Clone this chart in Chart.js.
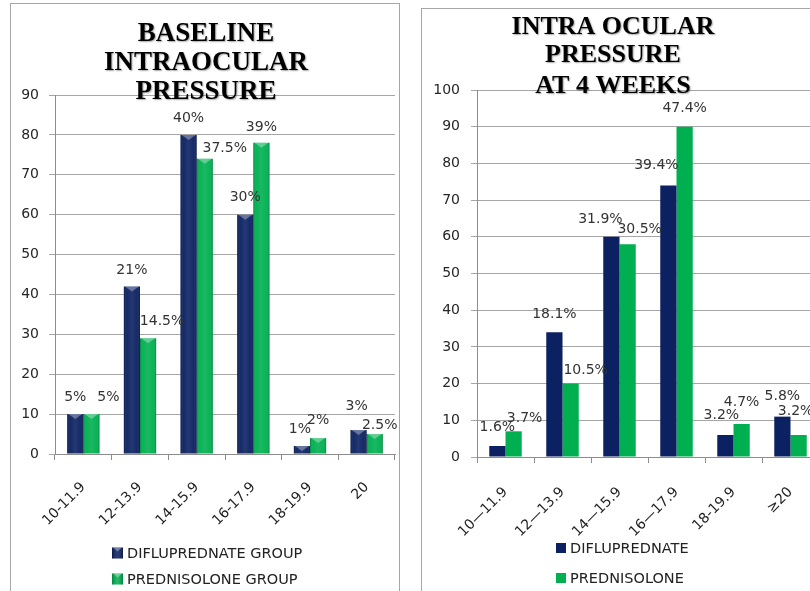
<!DOCTYPE html>
<html>
<head>
<meta charset="utf-8">
<script src="https://cdn.jsdelivr.net/npm/chart.js@4.4.1/dist/chart.umd.min.js"></script>
<style>
  html, body { margin: 0; padding: 0; background: #fff; width: 810px; height: 591px; overflow: hidden; }
  .frame { position: absolute; border: 1px solid #a6a6a6; box-sizing: border-box; }
  #frameL { left: 10px; top: 3px; width: 390px; height: 640px; }
  #frameR { left: 421px; top: 8px; width: 420px; height: 640px; }
  #cvL { position: absolute; left: 0; top: 0; }
  #cvR { position: absolute; left: 410px; top: 0; }
</style>
</head>
<body>
<div class="frame" id="frameL"></div>
<div class="frame" id="frameR"></div>
<canvas id="cvL" width="410" height="591"></canvas>
<canvas id="cvR" width="420" height="591"></canvas>
<script>
// Baseline intraocular pressure (mmHg bands) – number of eyes per group
const baselineCategories = ['10-11.9', '12-13.9', '14-15.9', '16-17.9', '18-19.9', '20'];
const baselineDifluprednate = [10, 42, 80, 60, 2, 6];
const baselinePrednisolone = [10, 29, 74, 78, 4, 5];
const baselineDifluprednatePct = ['5%', '21%', '40%', '30%', '1%', '3%'];
const baselinePrednisolonePct = ['5%', '14.5%', '37.5%', '39%', '2%', '2.5%'];
const baselineYMax = 90;

// Intraocular pressure at 4 weeks
const week4Categories = ['10\u201411.9', '12\u201413.9', '14\u201415.9', '16\u201417.9', '18-19.9', '\u226520'];
const week4Difluprednate = [3, 34, 60, 74, 6, 11];
const week4Prednisolone = [7, 20, 58, 90, 9, 6];
const week4DifluprednatePct = ['1.6%', '18.1%', '31.9%', '39.4%', '3.2%', '5.8%'];
const week4PrednisolonePct = ['3.7%', '10.5%', '30.5%', '47.4%', '4.7%', '3.2%'];
const week4YMax = 100;

const yStep = 10;

const NAVY = '#0b2161';
const GREEN = '#00b050';
const SANS = '"DejaVu Sans", Verdana, sans-serif';
const SERIF = '"Liberation Serif", "Times New Roman", serif';

// Draws bevel shading, value labels, the panel title and the legend
const panelDecor = {
  id: 'panelDecor',
  afterDatasetsDraw(chart, args, o) {
    const ctx = chart.ctx;
    ctx.save();
    if (o.bevel) {
      chart.data.datasets.forEach((ds, di) => {
        chart.getDatasetMeta(di).data.forEach(bar => {
          const { x, y, base, width } = bar.getProps(['x', 'y', 'base', 'width'], true);
          const l = x - width / 2, r = x + width / 2;
          const g = ctx.createLinearGradient(l, 0, r, 0);
          g.addColorStop(0, 'rgba(0,0,0,0.25)');
          g.addColorStop(0.18, 'rgba(255,255,255,0.04)');
          g.addColorStop(0.5, 'rgba(255,255,255,0.10)');
          g.addColorStop(0.82, 'rgba(255,255,255,0.04)');
          g.addColorStop(1, 'rgba(0,0,0,0.25)');
          ctx.fillStyle = g;
          ctx.fillRect(l, y, width, base - y);
          const h = Math.min(5, base - y);
          ctx.beginPath();
          ctx.moveTo(l + 1, y);
          ctx.lineTo(r - 1, y);
          ctx.lineTo(x, y + h);
          ctx.closePath();
          ctx.fillStyle = 'rgba(255,255,255,0.32)';
          ctx.fill();
        });
      });
    }
    ctx.font = '14px ' + SANS;
    ctx.fillStyle = '#333333';
    ctx.textAlign = 'center';
    ctx.textBaseline = 'middle';
    o.labels.forEach((texts, di) => {
      const meta = chart.getDatasetMeta(di);
      texts.forEach((t, i) => {
        const bar = meta.data[i];
        const n = o.nudges[di][i];
        ctx.fillText(t, bar.x + n[0], bar.y + n[1]);
      });
    });
    ctx.restore();
  },
  afterDraw(chart, args, o) {
    const ctx = chart.ctx;
    ctx.save();
    // title
    ctx.font = 'bold ' + o.titleSize + 'px ' + SERIF;
    ctx.fillStyle = '#000';
    ctx.textAlign = 'center';
    ctx.textBaseline = 'middle';
    ctx.shadowColor = 'rgba(0,0,0,0.35)';
    ctx.shadowBlur = 1.5;
    ctx.shadowOffsetX = 1;
    ctx.shadowOffsetY = 1;
    o.title.forEach((line, i) => ctx.fillText(line, o.titleX, o.titleY[i]));
    ctx.shadowColor = 'transparent';
    // legend
    ctx.font = '14.5px ' + SANS;
    ctx.textAlign = 'left';
    chart.data.datasets.forEach((ds, i) => {
      const cy = o.legendY[i];
      const s = o.legendBox;
      ctx.fillStyle = ds.backgroundColor;
      ctx.fillRect(o.legendX, cy - s / 2, s, s);
      if (o.bevel) {
        const g = ctx.createLinearGradient(o.legendX, 0, o.legendX + s, 0);
        g.addColorStop(0, 'rgba(0,0,0,0.25)');
        g.addColorStop(0.5, 'rgba(255,255,255,0.12)');
        g.addColorStop(1, 'rgba(0,0,0,0.25)');
        ctx.fillStyle = g;
        ctx.fillRect(o.legendX, cy - s / 2, s, s);
        ctx.beginPath();
        ctx.moveTo(o.legendX + 1, cy - s / 2);
        ctx.lineTo(o.legendX + s - 1, cy - s / 2);
        ctx.lineTo(o.legendX + s / 2, cy - s / 2 + 4);
        ctx.closePath();
        ctx.fillStyle = 'rgba(255,255,255,0.35)';
        ctx.fill();
      }
      ctx.fillStyle = '#222';
      ctx.fillText(ds.label, o.legendX + s + 4, cy + 1);
    });
    ctx.restore();
  }
};

function buildChart(canvasId, cfg) {
  return new Chart(document.getElementById(canvasId), {
    type: 'bar',
    data: {
      labels: cfg.categories,
      datasets: [
        { label: cfg.names[0], data: cfg.series[0], backgroundColor: NAVY,
          categoryPercentage: 0.57, barPercentage: 1.0 },
        { label: cfg.names[1], data: cfg.series[1], backgroundColor: GREEN,
          categoryPercentage: 0.57, barPercentage: 1.0 }
      ]
    },
    options: {
      responsive: false,
      animation: false,
      layout: { padding: cfg.padding },
      plugins: {
        legend: { display: false },
        title: { display: false },
        tooltip: { enabled: false },
        panelDecor: cfg.decor
      },
      scales: {
        x: {
          offset: true,
          grid: { display: true, drawOnChartArea: false, drawTicks: true, tickLength: 6,
                  offset: true, color: '#8c8c8c' },
          border: { color: '#8c8c8c' },
          ticks: { minRotation: 45, maxRotation: 45, autoSkip: false, padding: cfg.xPad,
                   color: '#222', font: { family: SANS, size: 14 } },
          afterFit: s => { s.height = cfg.xHeight; }
        },
        y: {
          min: 0, max: cfg.yMax,
          grid: { color: '#a6a6a6', tickLength: 6 },
          border: { color: '#8c8c8c' },
          ticks: { stepSize: yStep, padding: cfg.yPad, color: '#262626',
                   font: { family: SANS, size: 14 } },
          afterFit: s => { s.width = cfg.yWidth; }
        }
      }
    },
    plugins: [panelDecor]
  });
}

buildChart('cvL', {
  categories: baselineCategories,
  names: ['DIFLUPREDNATE GROUP', 'PREDNISOLONE GROUP'],
  series: [baselineDifluprednate, baselinePrednisolone],
  yMax: baselineYMax,
  padding: { left: 0, right: 15, top: 95, bottom: 0 },
  yWidth: 55, yPad: 10, xHeight: 137, xPad: 19,
  decor: {
    bevel: true,
    labels: [baselineDifluprednatePct, baselinePrednisolonePct],
    nudges: [
      [[0, -17], [0, -16], [0, -17], [0, -17], [-2, -17], [-2, -24]],
      [[17, -17], [14, -17], [20, -10], [0, -16], [0, -18], [5, -9]]
    ],
    title: ['BASELINE', 'INTRAOCULAR', 'PRESSURE'],
    titleSize: 27, titleX: 206, titleY: [34, 63, 92],
    legendX: 112, legendY: [553, 579], legendBox: 11
  }
});

buildChart('cvR', {
  categories: week4Categories,
  names: ['DIFLUPREDNATE', 'PREDNISOLONE'],
  series: [week4Difluprednate, week4Prednisolone],
  yMax: week4YMax,
  padding: { left: 0, right: 11, top: 90, bottom: 0 },
  yWidth: 67, yPad: 11, xHeight: 134, xPad: 21,
  decor: {
    bevel: false,
    labels: [week4DifluprednatePct, week4PrednisolonePct],
    nudges: [
      [[0, -19], [0, -18], [-11, -17], [-12, -20], [-4, -20], [0, -20]],
      [[11, -13], [15, -13], [12, -15], [0, -18], [0, -22], [-3, -24]]
    ],
    title: ['INTRA OCULAR', 'PRESSURE', 'AT 4 WEEKS'],
    titleSize: 26, titleX: 203, titleY: [27, 55, 86],
    legendX: 146, legendY: [548, 578], legendBox: 10
  }
});
</script>
</body>
</html>
